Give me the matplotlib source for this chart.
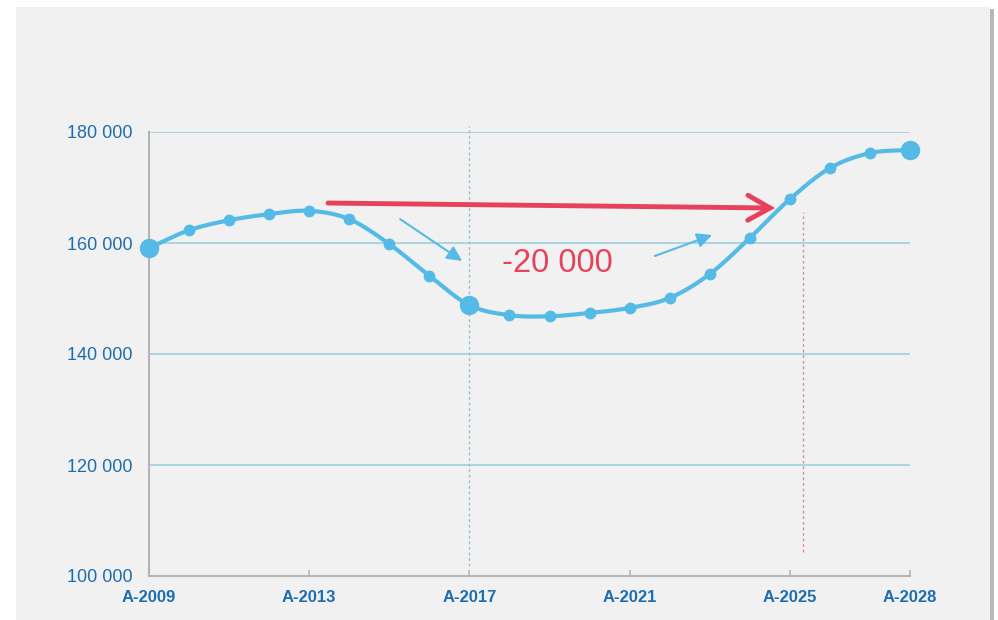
import matplotlib
matplotlib.use("Agg")
import matplotlib.pyplot as plt
from matplotlib.patches import Rectangle, FancyArrowPatch
import numpy as np

plt.rcParams['font.family'] = ['Liberation Sans', 'DejaVu Sans']

years = list(range(2009, 2029))
values = [159100, 162300, 164100, 165200, 165800, 164300, 159800, 154100, 148800, 147000,
          146800, 147400, 148300, 150100, 154400, 160900, 167900, 173500, 176200, 176800]
big_years = [2009, 2017, 2028]
xtick_years = [2009, 2013, 2017, 2021, 2025, 2028]
xtick_labels = ["A-2009", "A-2013", "A-2017", "A-2021", "A-2025", "A-2028"]
yticks = [100000, 120000, 140000, 160000, 180000]
ytick_labels = ["100 000", "120 000", "140 000", "160 000", "180 000"]
gap_label = "-20 000"

line_col = "#55bbe6"
text_col = "#1d6db1"
red = "#e8415b"
grid_col = "#9fd0e0"


def smooth(x, y, n=20):
    # Catmull-Rom through the points, just for drawing the curve
    x = np.asarray(x, float)
    y = np.asarray(y, float)
    px = np.concatenate([[2 * x[0] - x[1]], x, [2 * x[-1] - x[-2]]])
    py = np.concatenate([[2 * y[0] - y[1]], y, [2 * y[-1] - y[-2]]])
    xs, ys = [], []
    t = np.linspace(0, 1, n, endpoint=False)
    for i in range(1, len(px) - 2):
        for p, out in ((px, xs), (py, ys)):
            p0, p1, p2, p3 = p[i - 1], p[i], p[i + 1], p[i + 2]
            out.extend(0.5 * (2 * p1 + (-p0 + p2) * t + (2 * p0 - 5 * p1 + 4 * p2 - p3) * t ** 2
                              + (-p0 + 3 * p1 - 3 * p2 + p3) * t ** 3))
    xs.append(x[-1])
    ys.append(y[-1])
    return xs, ys


fig = plt.figure(figsize=(9.98, 6.2), dpi=100)
fig.patch.set_facecolor("white")

# background panel with a thin shadow on the right
bg = fig.add_axes([0, 0, 1, 1], zorder=-10)
bg.set_xlim(0, 998)
bg.set_ylim(620, 0)
bg.axis("off")
bg.add_patch(Rectangle((990, 9), 4, 611, facecolor="#b8b8b8", edgecolor="none"))
bg.add_patch(Rectangle((16, 7), 974, 613, facecolor="#f1f1f1", edgecolor="none"))

ax = fig.add_axes([149 / 998, 1 - 576 / 620, 761 / 998, 444 / 620])
ax.set_facecolor("none")
ax.set_xlim(2009, 2028)
ax.set_ylim(100000, 180000)

for v in yticks[1:]:
    ax.axhline(v, color=grid_col, lw=1.2, zorder=1)

for s in ("top", "right"):
    ax.spines[s].set_visible(False)
for s in ("left", "bottom"):
    ax.spines[s].set_color("#b4b4b4")
    ax.spines[s].set_linewidth(1.5)

ax.set_yticks(yticks)
ax.set_yticklabels(ytick_labels, fontsize=13, color=text_col)
ax.tick_params(axis="y", length=0, pad=12)
ax.set_xticks(xtick_years)
ax.set_xticklabels(xtick_labels, fontsize=12, color=text_col, fontweight="bold")
ax.tick_params(axis="x", direction="in", length=4, color="#b4b4b4", width=1.2, pad=10)

# reference lines
ax.plot([2017, 2017], [101800, 181000], ls=(0, (2, 2)), color="#8ec3d8", lw=1, zorder=2, clip_on=False)
ax.plot([2025.32, 2025.32], [104300, 165500], ls=(0, (2, 2)), color="#e08a9a", lw=1, zorder=2)

sx, sy = smooth(years, values)
ax.plot(sx, sy, color=line_col, lw=3, zorder=4, clip_on=False, solid_capstyle="round")
ax.plot(years, values, "o", color=line_col, ms=7.5, zorder=5, clip_on=False)
bi = [years.index(y) for y in big_years]
ax.plot([years[i] for i in bi], [values[i] for i in bi], "o", color=line_col, ms=13, zorder=6,
        clip_on=False)

ax.add_patch(FancyArrowPatch((2013.47, 167200), (2024.63, 166300), arrowstyle="->,head_length=8,head_width=4.5",
                             color=red, lw=3.5, zorder=7, mutation_scale=2, shrinkA=0, shrinkB=0,
                             capstyle="round", joinstyle="miter"))
ax.add_patch(FancyArrowPatch((2015.27, 164300), (2016.82, 156760), arrowstyle="-|>,head_length=4.5,head_width=2.2",
                             color=line_col, lw=1.5, zorder=7, mutation_scale=2, shrinkA=0, shrinkB=0))
ax.add_patch(FancyArrowPatch((2021.63, 157660), (2023.06, 161440), arrowstyle="-|>,head_length=4.5,head_width=2.2",
                             color=line_col, lw=1.5, zorder=7, mutation_scale=2, shrinkA=0, shrinkB=0))

ax.text(2019.2, 156300, gap_label, fontsize=23.5, color=red, ha="center", va="center", zorder=8)

fig.savefig("out.png", dpi=100)
